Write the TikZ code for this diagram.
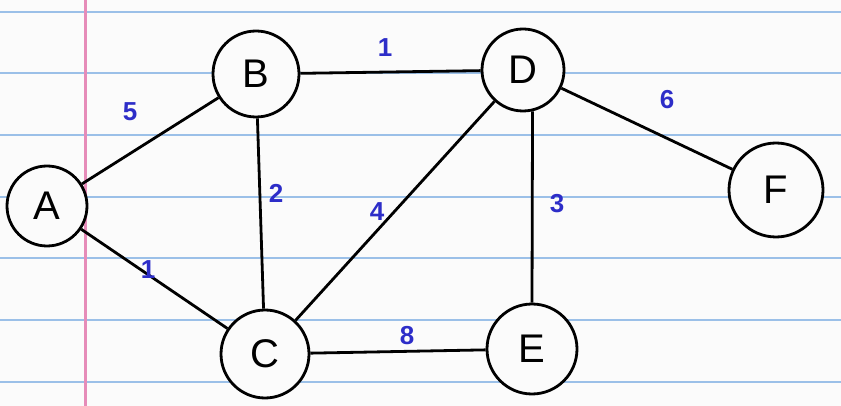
\documentclass[tikz,border=0pt]{standalone}
\usepackage{fontspec}
\setmainfont{Liberation Sans}
\definecolor{paper}{RGB}{251,251,251}
\definecolor{rule}{RGB}{155,192,232}
\definecolor{margin}{RGB}{230,140,185}
\definecolor{lab}{RGB}{45,45,200}
\begin{document}
\begin{tikzpicture}[x=1pt,y=-1pt,
  vert/.style={circle,draw=black,line width=2.8pt,fill=paper,inner sep=0pt,minimum size=84pt,font=\fontsize{40}{42}\selectfont},
  edge/.style={line width=2.8pt,black},
  wt/.style={text=lab,font=\fontsize{26}{28}\selectfont\bfseries,inner sep=1pt},
  ruleline/.style={rule,line width=2.2pt}]
\fill[paper] (0,0) rectangle (841,406);
\useasboundingbox (0,0) rectangle (841,406);
\foreach \y in {12,73,135,197,258,320,382} \draw[ruleline] (0,\y) -- (841,\y);
\draw[margin,line width=3pt] (85,0) -- (85,406);
\node[vert,minimum size=80pt] (A) at (47,206) {A};
\node[vert,minimum size=86pt] (B) at (256,74) {B};
\node[vert,minimum size=88pt] (C) at (265,354) {C};
\node[vert,minimum size=82pt] (D) at (523,70) {D};
\node[vert,minimum size=90pt] (E) at (532,349) {E};
\node[vert,minimum size=94pt] (F) at (776,190) {F};
\draw[edge] (A) -- (B);
\draw[edge] (A) -- (C);
\draw[edge] (B) -- (C);
\draw[edge] (B) -- (D);
\draw[edge] (C) -- (D);
\draw[edge] (D.-77) -- (E.north);
\draw[edge] (D) -- (F);
\draw[edge] (C) -- (E);
\node[wt] (w5) at (130,112) {5};
\node[wt] (w1a) at (385,48) {1};
\node[wt] (w6) at (667,100) {6};
\node[wt] (w2) at (276,193) {2};
\node[wt] (w4) at (377,212) {4};
\node[wt] (w3) at (557,204) {3};
\node[wt] (w1b) at (148,270) {1};
\node[wt] (w8) at (407,336) {8};
\end{tikzpicture}
\end{document}
